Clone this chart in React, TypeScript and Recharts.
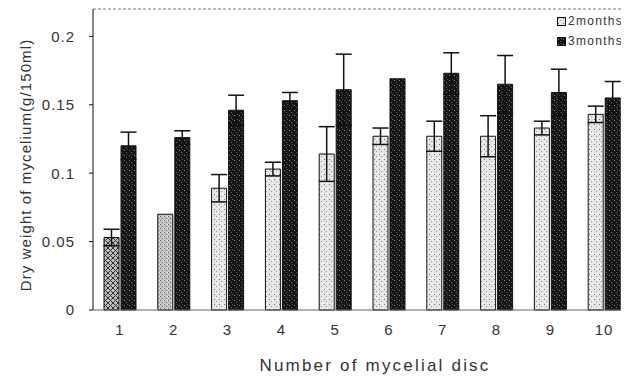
import React from "react";
import { Bar, BarChart, Cell, ErrorBar, Label, ReferenceLine, XAxis, YAxis } from "recharts";

const discs = ["1", "2", "3", "4", "5", "6", "7", "8", "9", "10"];
const twoMonths = [0.053, 0.07, 0.089, 0.103, 0.114, 0.127, 0.127, 0.127, 0.133, 0.143];
const twoMonthsErr = [0.006, 0, 0.01, 0.005, 0.02, 0.006, 0.011, 0.015, 0.005, 0.006];
const threeMonths = [0.12, 0.126, 0.146, 0.153, 0.161, 0.169, 0.173, 0.165, 0.159, 0.155];
const threeMonthsErr = [0.01, 0.005, 0.011, 0.006, 0.026, 0, 0.015, 0.021, 0.017, 0.012];
const yTicks = [0, 0.05, 0.1, 0.15, 0.2];

const data = discs.map((disc, i) => ({
  disc,
  m2: twoMonths[i],
  m2Err: twoMonthsErr[i],
  m3: threeMonths[i],
  m3Err: threeMonthsErr[i],
}));

const font = "'Liberation Sans', Arial, sans-serif";
const ink = "#333";

// bar 1 hatched, bar 2 a bit darker, rest light stipple
const lightFill = (i: number) => (i === 0 ? "url(#hatch)" : i === 1 ? "url(#midDots)" : "url(#lightDots)");

function Patterns() {
  return (
    <svg width={0} height={0} style={{ position: "absolute" }}>
      <defs>
        <pattern id="lightDots" width={5} height={5} patternUnits="userSpaceOnUse">
          <rect width={5} height={5} fill="#e6e6e6" />
          <rect x={1} y={1} width={1} height={1} fill="#777" />
          <rect x={3} y={3} width={1} height={1} fill="#999" />
          <rect x={4} y={0} width={1} height={1} fill="#fff" />
        </pattern>
        <pattern id="midDots" width={4} height={4} patternUnits="userSpaceOnUse">
          <rect width={4} height={4} fill="#c4c4c4" />
          <rect x={0} y={0} width={1} height={1} fill="#666" />
          <rect x={2} y={2} width={1} height={1} fill="#777" />
          <rect x={3} y={0} width={1} height={1} fill="#eee" />
        </pattern>
        <pattern id="hatch" width={5} height={5} patternUnits="userSpaceOnUse">
          <rect width={5} height={5} fill="#bdbdbd" />
          <path d="M0 0 L5 5 M5 0 L0 5" stroke="#333" strokeWidth={1} />
        </pattern>
        <pattern id="darkDots" width={5} height={5} patternUnits="userSpaceOnUse">
          <rect width={5} height={5} fill="#151515" />
          <rect x={1} y={2} width={1} height={1} fill="#888" />
          <rect x={3} y={4} width={1} height={1} fill="#666" />
          <rect x={4} y={1} width={1} height={1} fill="#555" />
        </pattern>
      </defs>
    </svg>
  );
}

function LegendBox() {
  const items = [
    { name: "2months", fill: "url(#lightDots)" },
    { name: "3months", fill: "url(#darkDots)" },
  ];
  return (
    <div
      style={{
        position: "absolute",
        left: 549,
        top: 3,
        fontFamily: font,
        fontSize: 12,
        color: ink,
        letterSpacing: 1.3,
        lineHeight: "20px",
      }}
    >
      {items.map((it) => (
        <div key={it.name} style={{ display: "flex", alignItems: "center" }}>
          <svg width={9} height={9} style={{ marginRight: 2 }}>
            <rect x={0.5} y={0.5} width={8} height={8} fill={it.fill} stroke="#111" />
          </svg>
          {it.name}
        </div>
      ))}
    </div>
  );
}

export default function App() {
  return (
    <div style={{ position: "relative", width: 621, height: 368, overflow: "hidden" }}>
      <Patterns />
      <BarChart
        width={625}
        height={368}
        data={data}
        margin={{ top: 1, right: 2, bottom: 0, left: 0 }}
        barSize={15}
        barGap={2}
      >
        <XAxis
          dataKey="disc"
          height={66}
          tickLine={false}
          tickSize={0}
          tickMargin={14}
          axisLine={{ stroke: "#666" }}
          tick={{ fontSize: 15, fill: ink, fontFamily: font, letterSpacing: 1 }}
        >
          <Label
            content={() => (
              <text x={367} y={357} textAnchor="middle" dominantBaseline="central" fontFamily={font} fontSize={17} letterSpacing={2.2} fill={ink}>
                Number of mycelial disc
              </text>
            )}
          />
        </XAxis>
        <YAxis
          width={85}
          domain={[0, 0.22]}
          ticks={yTicks}
          tickSize={4}
          tickMargin={14}
          tickLine={{ stroke: "#111" }}
          axisLine={{ stroke: "#111" }}
          tick={{ fontSize: 15, fill: ink, fontFamily: font, letterSpacing: 1 }}
        >
          <Label
            content={() => (
              <text
                x={17}
                y={157}
                transform="rotate(-90 17 157)"
                textAnchor="middle"
                dominantBaseline="central"
                fontFamily={font}
                fontSize={15}
                letterSpacing={1.1}
                fill={ink}
              >
                Dry weight of mycelium(g/150ml)
              </text>
            )}
          />
        </YAxis>
        <ReferenceLine y={0.22} stroke="#777" strokeDasharray="3 2" />
        <Bar dataKey="m2" name="2months" stroke="#111" strokeWidth={1} isAnimationActive={false}>
          {data.map((_, i) => (
            <Cell key={i} fill={lightFill(i)} />
          ))}
          <ErrorBar dataKey="m2Err" width={8} stroke="#111" strokeWidth={1.5} />
        </Bar>
        <Bar dataKey="m3" name="3months" fill="url(#darkDots)" stroke="#111" strokeWidth={1} isAnimationActive={false}>
          <ErrorBar dataKey="m3Err" width={8} stroke="#111" strokeWidth={1.5} />
        </Bar>
      </BarChart>
      <LegendBox />
    </div>
  );
}
